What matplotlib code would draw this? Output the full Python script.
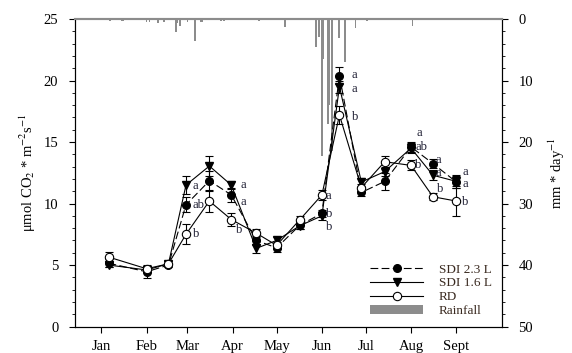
import matplotlib
matplotlib.use("Agg")
import matplotlib.pyplot as plt
from matplotlib.ticker import MultipleLocator

plt.rcParams['font.family'] = ['Liberation Serif', 'DejaVu Serif']
plt.rcParams['mathtext.fontset'] = 'stix'

# sampling dates (day of year)
days = [6, 32, 47, 59, 75, 90, 107, 121, 137, 152, 164, 179, 195, 213, 228, 244]

# soil respiration, umol CO2 m-2 s-1
sdi23     = [5.15, 4.45, 5.0, 9.9, 11.85, 10.7, 7.0, 6.4, 8.25, 9.2, 20.4, 10.9, 11.8, 14.6, 13.25, 11.75]
sdi23_err = [0.3, 0.5, 0.2, 0.6, 0.8, 0.6, 0.4, 0.3, 0.3, 0.3, 0.7, 0.3, 0.7, 0.4, 0.4, 0.5]
sdi16     = [5.0, 4.6, 5.1, 11.5, 13.05, 11.5, 6.35, 7.0, 8.2, 9.0, 19.5, 11.75, 12.6, 14.5, 12.3, 11.8]
sdi16_err = [0.2, 0.2, 0.2, 0.7, 0.8, 0.3, 0.4, 0.3, 0.3, 0.3, 0.5, 0.3, 0.4, 0.4, 0.4, 0.5]
rd        = [5.65, 4.7, 5.1, 7.5, 10.2, 8.7, 7.6, 6.6, 8.7, 10.7, 17.2, 11.3, 13.4, 13.1, 10.55, 10.2]
rd_err    = [0.4, 0.3, 0.2, 0.8, 0.9, 0.5, 0.3, 0.3, 0.3, 0.4, 0.7, 0.3, 0.5, 0.4, 0.3, 1.2]

# daily rainfall, mm
rain_days = [7, 15, 16, 26, 32, 34, 40, 44, 52, 53, 55, 60, 65, 69, 70, 83, 85, 109, 127,
             148, 150, 152, 153, 156, 157, 159, 164, 168, 175, 183, 214, 253, 256]
rain_mm   = [0.3, 0.3, 0.3, 0.2, 0.4, 0.4, 0.6, 0.4, 2.1, 0.6, 1.2, 0.5, 3.6, 0.4, 0.4, 0.3, 0.3, 0.3, 1.3,
             4.5, 2.9, 22.2, 6.5, 17.0, 14.0, 21.5, 3.0, 7.0, 1.5, 0.3, 1.2, 0.2, 0.2]

month_days = [1, 32, 60, 91, 121, 152, 182, 213, 244]
month_names = ['Jan', 'Feb', 'Mar', 'Apr', 'May', 'Jun', 'Jul', 'Aug', 'Sept']

# significance letters (day, value, letter)
letters = [
    (63.5, 11.4, 'a'), (63.5, 9.9, 'ab'), (63.5, 7.5, 'b'),
    (96.5, 11.5, 'a'), (96.5, 10.15, 'a'), (93.5, 7.85, 'b'),
    (154.5, 10.6, 'a'), (154.5, 9.15, 'b'), (154.5, 8.1, 'b'),
    (172.5, 20.45, 'a'), (172.5, 19.3, 'a'), (172.5, 17.05, 'b'),
    (216.5, 15.7, 'a'), (216.0, 14.6, 'ab'), (215.5, 13.1, 'b'),
    (230.0, 13.55, 'a'), (230.0, 12.45, 'a'), (231.0, 11.15, 'b'),
    (248.5, 12.55, 'a'), (248.5, 11.6, 'a'), (248.0, 10.15, 'b'),
]

fig = plt.figure(figsize=(5.72, 3.53), dpi=100)
ax = fig.add_axes([0.131, 0.075, 0.746, 0.871])
ax2 = ax.twinx()

# rainfall hanging from the top
bars = ax2.bar(rain_days, rain_mm, width=1.3, color='#8c8c8c', linewidth=0, label='Rainfall')
ax2.set_ylim(50, 0)
ax2.yaxis.set_major_locator(MultipleLocator(10))
ax2.yaxis.set_minor_locator(MultipleLocator(2))
ax2.set_ylabel('mm * day$^{-1}$', fontsize=10.5, labelpad=10)

ax.set_zorder(ax2.get_zorder() + 1)
ax.patch.set_visible(False)

kw = dict(fmt='none', ecolor='black', elinewidth=0.8, capsize=3.2, capthick=0.8)
ax.errorbar(days, sdi23, yerr=sdi23_err, **kw)
ax.errorbar(days, sdi16, yerr=sdi16_err, **kw)
ax.errorbar(days, rd, yerr=rd_err, **kw)

l1, = ax.plot(days, sdi23, color='black', lw=0.8, dashes=(7, 3), marker='o', ms=5.5,
              mfc='black', mec='black', label='SDI 2.3 L')
l2, = ax.plot(days, sdi16, color='black', lw=0.8, marker='v', ms=6,
              mfc='black', mec='black', label='SDI 1.6 L')
l3, = ax.plot(days, rd, color='black', lw=0.8, marker='o', ms=6,
              mfc='white', mec='black', mew=0.8, label='RD')

for x, y, t in letters:
    ax.text(x, y, t, fontsize=9, ha='left', va='center', color='#1e1e33')

ax.set_xlim(-17, 275)
ax.set_ylim(0, 25)
ax.set_xticks(month_days)
ax.set_xticklabels(month_names)
ax.yaxis.set_major_locator(MultipleLocator(5))
ax.yaxis.set_minor_locator(MultipleLocator(1))
ax.set_ylabel('μmol CO$_2$ * m$^{-2}$s$^{-1}$', fontsize=10.5, labelpad=4)

for a in (ax, ax2):
    a.tick_params(which='major', direction='out', length=4, width=0.8, labelsize=10.5)
    a.tick_params(which='minor', direction='out', length=2.5, width=0.6)
    a.spines['top'].set_color('#8c8c8c')
    a.spines['top'].set_linewidth(1.5)
ax.tick_params(axis='x', pad=6)
ax.tick_params(axis='y', pad=8)
ax2.tick_params(axis='y', pad=8)

leg = ax.legend(handles=[l1, l2, l3, bars], loc='lower right', bbox_to_anchor=(1.005, -0.008),
                frameon=False, fontsize=9.5, handlelength=4.0, handletextpad=1.2,
                labelspacing=0.12, numpoints=1)
for t in leg.get_texts():
    t.set_color('#3a2a20')

fig.savefig('out.png', dpi=100)
